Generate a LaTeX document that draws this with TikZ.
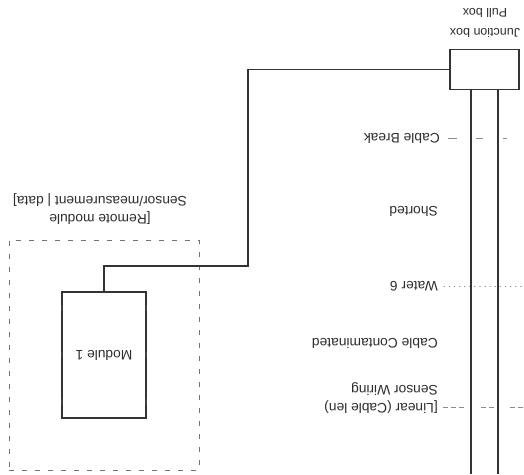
\documentclass[tikz,border=0pt]{standalone}
\usepackage{fontspec}
\setmainfont{Liberation Sans}
\begin{document}
\begin{tikzpicture}[x=1pt,y=1pt,
  lab/.style={rotate=180, font=\fontsize{13.8}{16}\selectfont, text=black!82, inner sep=0pt, align=center},
  boxst/.style={draw=black!80, line width=1.2pt, fill=white, inner sep=0pt},
  wire/.style={draw=black!80, line width=1.2pt},
  cable/.style={draw=black!80, line width=2pt},
  frame/.style={draw=black!55, line width=0.9pt, dash pattern=on 5pt off 8pt, inner sep=0pt},
  lead/.style={draw=black!45, line width=0.8pt}]
\useasboundingbox[fill=white] (0,0) rectangle (524,-474);

% group frame
\node[frame, minimum width=190pt, minimum height=230pt] (grp) at (104,-355) {};
\node[lab] (grplab1) at (100,-218) {[Remote module};
\node[lab] (grplab2) at (100,-200) {Sensor/measurement | data]};

% boxes
\node[boxst, minimum width=69pt, minimum height=40pt] (jb) at (484.5,-69.5) {};
\node[lab, font=\fontsize{12.5}{15}\selectfont] (jblab1) at (485,-33) {Junction box};
\node[lab, font=\fontsize{12.5}{15}\selectfont] (jblab2) at (485,-13) {Pull box};
\node[boxst, lab, minimum width=84pt, minimum height=126pt] (mod) at (104,-355) {Module 1};
\foreach \yy in {308,355,402}{
  \fill[black!75] (60.8,-\yy-3) rectangle (63.4,-\yy+3);
  \fill[black!75] (144.6,-\yy-3) rectangle (147.2,-\yy+3);
}

% wire from junction box to module (mod is turned 180 degrees: its south anchor is on top)
\coordinate (b2) at (248,-266);
\draw[wire] (jb.west) -| (b2) -| (mod.south);

% labels along the cable
\node[lab, anchor=west] (t1) at (440,-138) {Cable Break};
\node[lab, anchor=west] (t2) at (438,-211) {Shorted};
\node[lab, anchor=west] (t3) at (438,-286) {Water 6};
\node[lab, anchor=west] (t4) at (438,-343) {Cable Contaminated};
\node[lab, anchor=west] (t5) at (438,-389) {Sensor Wiring};
\node[lab, anchor=west] (t6) at (438,-407) {[Linear (Cable len)};

\coordinate (r1) at (524,-138);
\coordinate (r3) at (524,-286);
\coordinate (r6) at (524,-407);
\draw[lead, dash pattern=on 9pt off 19pt on 7pt off 20pt on 4pt off 40pt] ([xshift=8pt]t1.west) -- (r1);
\draw[lead, line cap=round, dash pattern=on 0.6pt off 4.5pt] ([xshift=6pt]t3.west) -- (r3);
\draw[lead, dash pattern=on 5pt off 3pt on 5pt off 3pt on 5pt off 17pt on 5pt off 3pt on 5pt off 16pt] ([xshift=5pt]t6.west) -- (r6);

% sensing cable
\coordinate (p1) at (471,-474);
\coordinate (p2) at (498,-474);
\draw[cable] (jb.south -| p1) -- (p1);
\draw[cable] (jb.south -| p2) -- (p2);
\end{tikzpicture}
\end{document}
